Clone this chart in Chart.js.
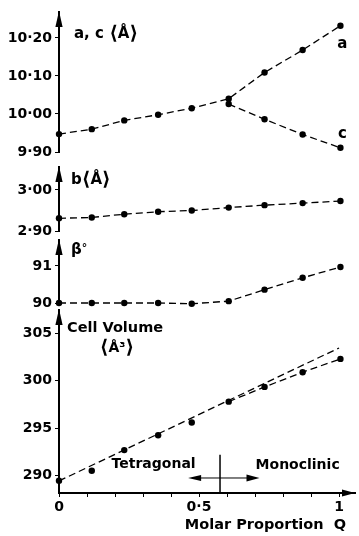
<!DOCTYPE html>
<html>
<head>
<meta charset="utf-8">
<script src="https://cdn.jsdelivr.net/npm/chart.js@4.4.0/dist/chart.umd.min.js"></script>
<style>
html, body { margin: 0; padding: 0; background: #fff; }
#fig { position: relative; width: 359px; height: 536px; overflow: hidden; background: #fff; }
#fig canvas { position: absolute; left: 0; }
</style>
</head>
<body>
<div id="fig">
  <canvas id="panelAC"></canvas>
  <canvas id="panelB"></canvas>
  <canvas id="panelBeta"></canvas>
  <canvas id="panelVol"></canvas>
</div>
<script>
// molar proportion Q of the samples
const molarQ  = [0, 0.117, 0.233, 0.354, 0.474, 0.606, 0.734, 0.870, 1.005];
// cell parameters
const cellA   = [9.947, 9.960, 9.983, 9.998, 10.015, 10.040, 10.109, 10.168, 10.232];
const cellC   = [null, null, null, null, null, 10.026, 9.986, 9.946, 9.911];
const cellB   = [2.931, 2.933, 2.941, 2.947, 2.950, 2.957, 2.963, 2.968, 2.973];
const betaDeg = [90.00, 90.00, 90.00, 90.00, 89.98, 90.05, 90.36, 90.68, 90.97];
const cellVol = [289.47, 290.53, 292.70, 294.26, 295.60, 297.80, 299.35, 300.90, 302.30];
const monoStart = 5; // first monoclinic sample
// straight (Vegard) line of the volume
const vegardQ   = [0, 1.0];
const vegardVol = [289.45, 303.45];

// tick values and labels
const acTicks   = [9.90, 10.00, 10.10, 10.20];
const acLabels  = ['9·90', '10·00', '10·10', '10·20'];
const bTicks    = [2.90, 3.00];
const bLabels   = ['2·90', '3·00'];
const betaTicks = [90, 91];
const betaLabels = ['90', '91'];
const volTicks  = [290, 295, 300, 305];
const volLabels = ['290', '295', '300', '305'];
const qTicks    = [0, 0.1, 0.2, 0.3, 0.4, 0.5, 0.6, 0.7, 0.8, 0.9, 1.0];
const qLabels   = ['0', '', '', '', '', '0·5', '', '', '', '', '1'];

// phase boundary marker (data coords)
const boundaryQ = 0.575;
const boundaryTop = 292.2;
const arrowV = 289.76;
const arrowLeftQ = 0.461;
const arrowRightQ = 0.716;

const FIG_W = 359, AXIS_X = 59, X_RIGHT = 357, PAD = 20;
const Q_MAX = 1.057;
const tickFont = { family: 'DejaVu Sans', weight: 'bold', size: 14 };
const BOLD = '"DejaVu Sans", sans-serif';

function points(xs, ys) {
  return xs.map((x, i) => ({ x: x, y: ys[i] }));
}

function dashed(data, withPoints) {
  return {
    data: data,
    showLine: true,
    borderColor: '#000',
    borderWidth: 1.3,
    borderDash: [7, 4],
    pointRadius: withPoints ? 3.2 : 0,
    pointBackgroundColor: '#000',
    pointBorderWidth: 0,
    spanGaps: false,
    clip: false
  };
}

function tri(ctx, x, y, dir) {
  ctx.beginPath();
  if (dir === 'up') {
    ctx.moveTo(x, y);
    ctx.lineTo(x - 3.6, y + 16);
    ctx.lineTo(x + 3.6, y + 16);
  } else if (dir === 'right') {
    ctx.moveTo(x, y);
    ctx.lineTo(x - 13, y - 3.6);
    ctx.lineTo(x - 13, y + 3.6);
  } else {
    ctx.moveTo(x, y);
    ctx.lineTo(x + 13, y - 3);
    ctx.lineTo(x + 13, y + 3);
  }
  ctx.closePath();
  ctx.fill();
}

// draws text pieces one after another, each with its own size
function textRun(ctx, parts, x, y, align) {
  let w = 0;
  parts.forEach(pt => { ctx.font = 'bold ' + pt[1] + 'px ' + BOLD; w += ctx.measureText(pt[0]).width; });
  let cx = align === 'center' ? x - w / 2 : align === 'right' ? x - w : x;
  ctx.textAlign = 'left';
  parts.forEach(pt => {
    ctx.font = 'bold ' + pt[1] + 'px ' + BOLD;
    ctx.fillText(pt[0], cx, y + (pt[2] || 0));
    cx += ctx.measureText(pt[0]).width;
  });
}

function makePanel(id, p) {
  const canvas = document.getElementById(id);
  const top = p.areaTop - PAD;
  const bottomSpace = p.showX ? 43 : PAD;
  canvas.width = FIG_W;
  canvas.height = p.areaBottom - top + bottomSpace;
  canvas.style.top = top + 'px';

  new Chart(canvas, {
    type: 'scatter',
    data: { datasets: p.datasets },
    options: {
      responsive: false,
      animation: false,
      events: [],
      layout: { padding: { top: PAD, bottom: p.showX ? 3 : PAD, left: 0, right: FIG_W - X_RIGHT } },
      plugins: { legend: { display: false }, tooltip: { enabled: false } },
      scales: {
        x: {
          type: 'linear', min: 0, max: Q_MAX, display: !!p.showX,
          afterBuildTicks: ax => { ax.ticks = qTicks.map(v => ({ value: v })); },
          afterFit: ax => { if (p.showX) ax.height = 40; },
          ticks: { callback: (v, i) => qLabels[i], autoSkip: false, maxRotation: 0, padding: 2, color: '#000', font: tickFont },
          grid: { drawOnChartArea: false, tickLength: 4, color: '#000', lineWidth: 1 },
          border: { display: true, color: '#000', width: 2 }
        },
        y: {
          type: 'linear', min: p.min, max: p.max,
          afterBuildTicks: ax => { ax.ticks = p.ticks.map(v => ({ value: v })); },
          afterFit: ax => { ax.width = AXIS_X; },
          ticks: { callback: (v, i) => p.labels[i], autoSkip: false, padding: 3, color: '#000', font: tickFont },
          grid: { drawOnChartArea: false, tickLength: 4, color: '#000', lineWidth: 1 },
          border: { display: true, color: '#000', width: 2 }
        }
      }
    },
    plugins: [{
      id: 'decor',
      afterDraw: chart => {
        const ctx = chart.ctx, area = chart.chartArea;
        ctx.save();
        ctx.fillStyle = '#000';
        ctx.strokeStyle = '#000';
        tri(ctx, Math.round(area.left), area.top - 1, 'up');
        ctx.textBaseline = 'alphabetic';
        p.titles.forEach(t => textRun(ctx, t.parts, t.x, t.y - top, t.align));
        if (p.extra) p.extra(chart, ctx);
        ctx.restore();
      }
    }]
  });
}

makePanel('panelAC', {
  areaTop: 12, areaBottom: 152, min: 9.90, max: 10.268,
  ticks: acTicks, labels: acLabels,
  datasets: [dashed(points(molarQ, cellA), true), dashed(points(molarQ, cellC), true)],
  titles: [{ parts: [['a, c ', 15], ['⟨', 19, 1], ['Å', 15], ['⟩', 19, 1]], x: 74, y: 37.5 }],
  extra: (chart, ctx) => {
    const xs = chart.scales.x, ys = chart.scales.y;
    ctx.font = 'bold 15px ' + BOLD;
    ctx.textAlign = 'center';
    ctx.fillText('a', xs.getPixelForValue(1.012), ys.getPixelForValue(10.173));
    ctx.fillText('c', xs.getPixelForValue(1.012), ys.getPixelForValue(9.9355));
  }
});

makePanel('panelB', {
  areaTop: 167, areaBottom: 231, min: 2.90, max: 3.056,
  ticks: bTicks, labels: bLabels,
  datasets: [dashed(points(molarQ, cellB), true)],
  titles: [{ parts: [['b', 15], ['⟨', 19, 1], ['Å', 15], ['⟩', 19, 1]], x: 71, y: 183.5 }]
});

makePanel('panelBeta', {
  areaTop: 240, areaBottom: 303, min: 90, max: 91.70,
  ticks: betaTicks, labels: betaLabels,
  datasets: [dashed(points(molarQ, betaDeg), true)],
  titles: [{ parts: [['β', 15], ['°', 11, -3]], x: 71, y: 254 }]
});

makePanel('panelVol', {
  areaTop: 310, areaBottom: 493, min: 288.18, max: 307.45, showX: true,
  ticks: volTicks, labels: volLabels,
  datasets: [
    dashed(points(vegardQ, vegardVol), false),
    dashed(points(molarQ.slice(monoStart), cellVol.slice(monoStart)), false),
    Object.assign(dashed(points(molarQ, cellVol), true), { showLine: false })
  ],
  titles: [
    { parts: [['Cell Volume', 14.5]], x: 67, y: 331.5 },
    { parts: [['⟨', 19, 1], ['Å³', 14], ['⟩', 19, 1]], x: 117, y: 352, align: 'center' },
    { parts: [['Molar Proportion  Q', 14.5]], x: 346, y: 529, align: 'right' }
  ],
  extra: (chart, ctx) => {
    const xs = chart.scales.x, ys = chart.scales.y, area = chart.chartArea;
    tri(ctx, area.right, Math.round(area.bottom), 'right');
    const bx = xs.getPixelForValue(boundaryQ);
    ctx.lineWidth = 1.5;
    ctx.beginPath();
    ctx.moveTo(bx, ys.getPixelForValue(boundaryTop));
    ctx.lineTo(bx, area.bottom);
    ctx.stroke();
    const ay = ys.getPixelForValue(arrowV);
    const lx = xs.getPixelForValue(arrowLeftQ), rx = xs.getPixelForValue(arrowRightQ);
    ctx.lineWidth = 1;
    ctx.beginPath();
    ctx.moveTo(lx + 6, ay);
    ctx.lineTo(rx - 6, ay);
    ctx.stroke();
    tri(ctx, lx, ay, 'left');
    tri(ctx, rx, ay, 'right');
    ctx.font = 'bold 14px ' + BOLD;
    ctx.textAlign = 'right';
    ctx.fillText('Tetragonal', xs.getPixelForValue(0.488), ys.getPixelForValue(290.81));
    ctx.textAlign = 'left';
    ctx.fillText('Monoclinic', xs.getPixelForValue(0.702), ys.getPixelForValue(290.71));
  }
});
</script>
</body>
</html>
